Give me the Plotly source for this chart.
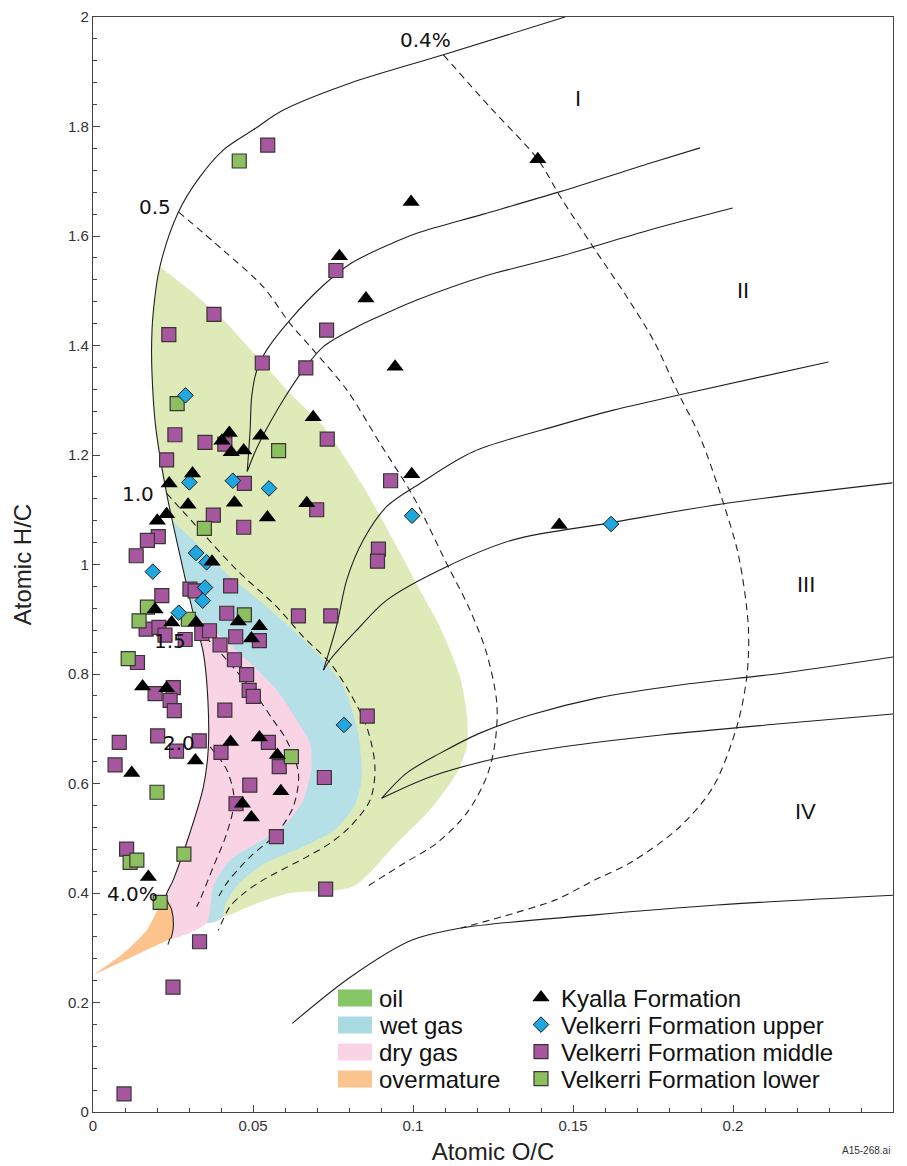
import plotly.graph_objects as go

# ---------------- sample data (Atomic O/C, Atomic H/C) ----------------
kyalla_oc = [0.139, 0.0994, 0.077, 0.0853, 0.0944, 0.0688, 0.0996, 0.0668, 0.1457, 0.0426,
             0.0403, 0.0432, 0.0471, 0.0524, 0.0311, 0.0238, 0.0297, 0.0442, 0.023, 0.0201,
             0.0545, 0.0372, 0.0194, 0.0246, 0.0322, 0.0454, 0.052, 0.0495, 0.0155, 0.023,
             0.032, 0.0121, 0.043, 0.052, 0.0576, 0.0587, 0.0467, 0.0495, 0.0173]
kyalla_hc = [1.740, 1.662, 1.563, 1.486, 1.361, 1.269, 1.165, 1.112, 1.072, 1.240,
             1.226, 1.205, 1.208, 1.235, 1.166, 1.148, 1.109, 1.113, 1.092, 1.080,
             1.086, 1.005, 0.918, 0.894, 0.894, 0.896, 0.887, 0.865, 0.777, 0.774,
             0.642, 0.619, 0.676, 0.684, 0.652, 0.586, 0.563, 0.538, 0.429]

upper_oc = [0.0289, 0.0301, 0.0437, 0.055, 0.0997, 0.1619, 0.0322, 0.0355, 0.0187, 0.035,
            0.0343, 0.0268, 0.0784]
upper_hc = [1.309, 1.150, 1.153, 1.139, 1.089, 1.074, 1.021, 1.004, 0.987, 0.958,
            0.934, 0.912, 0.707]

middle_oc = [0.0546, 0.0759, 0.0378, 0.0237, 0.073, 0.0529, 0.0665, 0.0732, 0.093, 0.0699,
             0.0892, 0.0889, 0.0642, 0.0743, 0.0256, 0.035, 0.0412, 0.023, 0.0473, 0.0376,
             0.0471, 0.0204, 0.017, 0.0135, 0.043, 0.0303, 0.0319, 0.0215, 0.0418, 0.0166,
             0.0206, 0.0225, 0.0288, 0.034, 0.0364, 0.0446, 0.052, 0.0397, 0.0139, 0.0442,
             0.048, 0.0194, 0.0251, 0.0241, 0.0254, 0.0488, 0.0501, 0.0412, 0.0857, 0.0082,
             0.0202, 0.0261, 0.0332, 0.0069, 0.040, 0.0548, 0.0582, 0.0723, 0.049, 0.0447,
             0.0573, 0.0105, 0.0727, 0.0333, 0.025, 0.0097]
middle_hc = [1.766, 1.537, 1.457, 1.420, 1.428, 1.368, 1.359, 1.229, 1.153, 1.100,
             1.028, 1.006, 0.906, 0.906, 1.237, 1.223, 1.220, 1.191, 1.148, 1.090,
             1.068, 1.051, 1.044, 1.016, 0.961, 0.955, 0.952, 0.943, 0.911, 0.882,
             0.885, 0.871, 0.863, 0.874, 0.879, 0.868, 0.861, 0.853, 0.821, 0.826,
             0.799, 0.764, 0.775, 0.752, 0.733, 0.770, 0.759, 0.734, 0.723, 0.675,
             0.687, 0.659, 0.678, 0.634, 0.657, 0.675, 0.631, 0.611, 0.597, 0.563,
             0.503, 0.480, 0.407, 0.311, 0.228, 0.033]

lower_oc = [0.0457, 0.0263, 0.058, 0.0348, 0.017, 0.0144, 0.0298, 0.0473, 0.011, 0.062,
            0.020, 0.0116, 0.0137, 0.0284, 0.021]
lower_hc = [1.737, 1.294, 1.208, 1.066, 0.922, 0.897, 0.900, 0.908, 0.828, 0.649,
            0.584, 0.456, 0.460, 0.471, 0.383]

# ---------------- kerogen evolution paths (solid) ----------------
type1_x = [0.1475, 0.1095, 0.0803, 0.0595, 0.0501, 0.0407, 0.0334, 0.0267, 0.0209, 0.0188,
           0.0183, 0.0188, 0.0197, 0.023, 0.0282, 0.0313, 0.0345, 0.0359, 0.036, 0.0345,
           0.0303, 0.0251, 0.0228, 0.0246, 0.0251, 0.0244]
type1_y = [2.0, 1.931, 1.879, 1.830, 1.794, 1.757, 1.708, 1.644, 1.544, 1.459,
           1.392, 1.306, 1.246, 1.130, 0.990, 0.911, 0.838, 0.753, 0.661, 0.594,
           0.510, 0.424, 0.393, 0.369, 0.338, 0.317]
type2a_x = [0.1897, 0.174, 0.146, 0.122, 0.1012, 0.0928, 0.0803, 0.072, 0.0616,
            0.0543, 0.0512, 0.0496, 0.0491, 0.0482]
type2a_y = [1.761, 1.733, 1.681, 1.640, 1.605, 1.585, 1.549, 1.510, 1.447,
            1.392, 1.355, 1.307, 1.246, 1.170]
type2b_x = [0.1999, 0.174, 0.146, 0.122, 0.1012, 0.0928, 0.0824, 0.072, 0.0657, 0.0594,
            0.0541, 0.0509, 0.0482]
type2b_y = [1.651, 1.611, 1.563, 1.526, 1.483, 1.462, 1.434, 1.398, 1.355, 1.300,
            1.246, 1.209, 1.170]
type3a_x = [0.2298, 0.1834, 0.1626, 0.1459, 0.1188, 0.1022, 0.0918, 0.0845, 0.0793, 0.0762,
            0.072]
type3a_y = [1.370, 1.310, 1.282, 1.255, 1.206, 1.148, 1.106, 1.045, 0.972, 0.890,
            0.807]
type3b_x = [0.2498, 0.197, 0.1616, 0.1313, 0.1105, 0.0918, 0.0824, 0.0741, 0.072]
type3b_y = [1.149, 1.111, 1.076, 1.045, 0.996, 0.935, 0.880, 0.826, 0.807]
type4a_x = [0.25, 0.2147, 0.1834, 0.1574, 0.1366, 0.1209, 0.1084, 0.098, 0.0902]
type4a_y = [0.831, 0.801, 0.780, 0.756, 0.725, 0.692, 0.655, 0.619, 0.573]
type4b_x = [0.25, 0.2147, 0.1782, 0.147, 0.1262, 0.1053, 0.0902]
type4b_y = [0.727, 0.709, 0.689, 0.667, 0.646, 0.612, 0.573]
type4c_x = [0.25, 0.195, 0.1569, 0.115, 0.0997, 0.0806, 0.0623]
type4c_y = [0.396, 0.378, 0.360, 0.336, 0.314, 0.247, 0.162]

# ---------------- vitrinite reflectance iso-lines (dashed) ----------------
ro04_x = [0.1095, 0.1241, 0.139, 0.146, 0.1563, 0.1668, 0.1751, 0.1829, 0.1897, 0.197,
          0.2017, 0.2048, 0.2043, 0.2012, 0.1938, 0.1834, 0.1684, 0.1569, 0.1443, 0.1315, 0.115]
ro04_y = [1.931, 1.835, 1.740, 1.672, 1.580, 1.489, 1.410, 1.313, 1.233, 1.112,
          1.017, 0.886, 0.795, 0.704, 0.594, 0.521, 0.457, 0.424, 0.387, 0.363, 0.336]
ro05_x = [0.0267, 0.0407, 0.0532, 0.0616, 0.0688, 0.0793, 0.0897, 0.1001, 0.1105, 0.1178,
          0.123, 0.1262, 0.1256, 0.123, 0.1168, 0.1074, 0.0971, 0.0857]
ro05_y = [1.644, 1.574, 1.507, 1.440, 1.392, 1.319, 1.221, 1.124, 1.002, 0.917,
          0.838, 0.746, 0.673, 0.612, 0.546, 0.491, 0.454, 0.412]
ro10_x = [0.023, 0.0334, 0.0449, 0.0574, 0.0657, 0.0741, 0.0803, 0.0855, 0.0881, 0.0866,
          0.0803, 0.0741, 0.0668, 0.0532, 0.047, 0.0428, 0.0392]
ro10_y = [1.130, 1.063, 0.990, 0.923, 0.868, 0.820, 0.765, 0.704, 0.631, 0.570,
          0.521, 0.491, 0.466, 0.424, 0.399, 0.375, 0.332]
ro15_x = [0.0324, 0.0418, 0.0512, 0.0563, 0.0605, 0.0642, 0.0626, 0.0574, 0.0491, 0.0418, 0.0387]
ro15_y = [0.884, 0.826, 0.759, 0.716, 0.679, 0.619, 0.558, 0.509, 0.466, 0.418, 0.387]
ro20_x = [0.0366, 0.0418, 0.0441, 0.0418, 0.0376, 0.0334, 0.0324]
ro20_y = [0.667, 0.625, 0.570, 0.509, 0.448, 0.387, 0.375]
ro40_x = [0.0241, 0.0231]
ro40_y = [0.318, 0.300]

# ---------------- maturity zones ----------------
oil_x = [0.0209, 0.0303, 0.0407, 0.0512, 0.0616, 0.072, 0.0845, 0.0949, 0.1022, 0.1084,
         0.1147, 0.117, 0.1168, 0.1137, 0.1053, 0.0949, 0.0813, 0.0616, 0.0512, 0.0402,
         0.0355, 0.0228, 0.0251, 0.0303, 0.0345, 0.036, 0.0359, 0.0345, 0.0313, 0.0282,
         0.023, 0.0197, 0.0188, 0.0183, 0.0188]
oil_y = [1.544, 1.501, 1.447, 1.380, 1.313, 1.252, 1.142, 1.033, 0.953, 0.886,
         0.795, 0.716, 0.667, 0.619, 0.552, 0.491, 0.412, 0.400, 0.381, 0.354,
         0.345, 0.393, 0.424, 0.510, 0.594, 0.661, 0.753, 0.838, 0.911, 0.990,
         1.130, 1.246, 1.306, 1.392, 1.459]
wet_x = [0.0246, 0.0334, 0.0428, 0.0543, 0.0637, 0.072, 0.0782, 0.0813, 0.0829, 0.084,
         0.0819, 0.0756, 0.0647, 0.0528, 0.0453, 0.0413, 0.0402, 0.0355, 0.0228, 0.0251,
         0.0303, 0.0345, 0.036, 0.0359, 0.0345, 0.0313, 0.0282]
wet_y = [1.081, 1.033, 0.978, 0.923, 0.874, 0.826, 0.777, 0.728, 0.692, 0.612,
         0.561, 0.515, 0.482, 0.451, 0.415, 0.378, 0.354, 0.345, 0.393, 0.424,
         0.510, 0.594, 0.661, 0.753, 0.838, 0.911, 0.990]
dry_x = [0.0313, 0.0387, 0.048, 0.0574, 0.0637, 0.0678, 0.0683, 0.0657, 0.0595, 0.0512,
         0.0428, 0.0376, 0.0355, 0.0244, 0.0251, 0.0246, 0.0228, 0.0251, 0.0303, 0.0345,
         0.036, 0.0359, 0.0345]
dry_y = [0.911, 0.875, 0.826, 0.771, 0.716, 0.674, 0.631, 0.570, 0.521, 0.491,
         0.460, 0.412, 0.345, 0.317, 0.338, 0.369, 0.393, 0.424, 0.510, 0.594,
         0.661, 0.753, 0.838]
over_x = [0.0, 0.0095, 0.0168, 0.0228, 0.0246, 0.0251, 0.0244]
over_y = [0.250, 0.290, 0.332, 0.393, 0.369, 0.338, 0.317]

zone_names = ["oil", "wet gas", "dry gas", "overmature"]
zone_fill = ["#dfeab9", "#b6e0e8", "#f8d4e4", "#fdc38d"]
zone_key = ["#86c664", "#aadbe3", "#f9d4e5", "#fcc48e"]

iso_labels = ["0.4%", "0.5", "1.0", "1.5", "2.0", "4.0%"]
iso_lab_x = [0.1038, 0.0194, 0.0141, 0.0241, 0.0269, 0.0122]
iso_lab_y = [1.958, 1.653, 1.129, 0.860, 0.674, 0.398]
type_labels = ["I", "II", "III", "IV"]
type_lab_x = [0.1516, 0.2031, 0.2228, 0.2225]
type_lab_y = [1.852, 1.501, 0.963, 0.548]

INK = "#231f20"
fig = go.Figure()

zones = [(oil_x, oil_y), (wet_x, wet_y), (dry_x, dry_y), (over_x, over_y)]
for (zx, zy), col in zip(zones, zone_fill):
    fig.add_trace(go.Scatter(x=zx, y=zy, fill="toself", fillcolor=col, mode="lines",
                             line=dict(width=0, shape="spline", smoothing=0.7, color=col),
                             hoverinfo="skip", showlegend=False))

for lx, ly in [(type1_x, type1_y), (type2a_x, type2a_y), (type2b_x, type2b_y),
               (type3a_x, type3a_y), (type3b_x, type3b_y), (type4a_x, type4a_y),
               (type4b_x, type4b_y), (type4c_x, type4c_y)]:
    fig.add_trace(go.Scatter(x=lx, y=ly, mode="lines",
                             line=dict(color=INK, width=1.1, shape="spline", smoothing=0.9),
                             hoverinfo="skip", showlegend=False))

for lx, ly in [(ro04_x, ro04_y), (ro05_x, ro05_y), (ro10_x, ro10_y), (ro15_x, ro15_y),
               (ro20_x, ro20_y), (ro40_x, ro40_y)]:
    fig.add_trace(go.Scatter(x=lx, y=ly, mode="lines",
                             line=dict(color=INK, width=1.1, dash="7px,5px", shape="spline", smoothing=0.9),
                             hoverinfo="skip", showlegend=False))

fig.add_trace(go.Scatter(x=middle_oc, y=middle_hc, mode="markers", name="Velkerri Formation middle",
                         marker=dict(symbol="square", size=14, color="#a6579f",
                                     line=dict(color="#3b3434", width=1.2)),
                         legend="legend3"))
fig.add_trace(go.Scatter(x=lower_oc, y=lower_hc, mode="markers", name="Velkerri Formation lower",
                         marker=dict(symbol="square", size=14, color="#8cbf5f",
                                     line=dict(color="#3b3434", width=1.2)),
                         legend="legend4"))
fig.add_trace(go.Scatter(x=upper_oc, y=upper_hc, mode="markers", name="Velkerri Formation upper",
                         marker=dict(symbol="diamond", size=12, color="#1fa8e0",
                                     line=dict(color="#1a1a1a", width=1)),
                         legend="legend2"))
fig.add_trace(go.Scatter(x=kyalla_oc, y=kyalla_hc, mode="markers", name="Kyalla Formation",
                         marker=dict(symbol="triangle-up", size=15, color="#000000",
                                     line=dict(width=0)),
                         legend="legend"))

for t, x, y in zip(iso_labels, iso_lab_x, iso_lab_y):
    fig.add_annotation(x=x, y=y, text=t, showarrow=False,
                       font=dict(family="DejaVu Sans", size=20, color="#111"))
for t, x, y in zip(type_labels, type_lab_x, type_lab_y):
    fig.add_annotation(x=x, y=y, text=t, showarrow=False,
                       font=dict(family="Arial, Liberation Sans", size=22, color="#111"))

# area legend (swatches + labels)
W, H = 907, 1166
L, R, T, B = 93, 14, 17, 54
pw, ph = W - L - R, H - T - B
def px_to_paper_x(px):
    return (px - L) / pw
def px_to_paper_y(py):
    return (H - B - py) / ph
row_py = [998, 1025, 1052, 1079]
for name, col, py in zip(zone_names, zone_key, row_py):
    fig.add_shape(type="rect", xref="paper", yref="paper",
                  x0=px_to_paper_x(338), x1=px_to_paper_x(372),
                  y0=px_to_paper_y(py + 8.5), y1=px_to_paper_y(py - 8.5),
                  fillcolor=col, line=dict(width=0), layer="above")
    fig.add_annotation(xref="paper", yref="paper", x=px_to_paper_x(377), y=px_to_paper_y(py),
                       xanchor="left", yanchor="middle", text=name, showarrow=False,
                       font=dict(family="Arial, Liberation Sans", size=24, color="#111"))

leg_common = dict(xanchor="left", yanchor="middle", bgcolor="rgba(0,0,0,0)",
                  font=dict(family="Arial, Liberation Sans", size=24, color="#111"),
                  itemclick=False, itemdoubleclick=False, borderwidth=0)
for key, py in zip(["legend", "legend2", "legend3", "legend4"], row_py):
    fig.update_layout({key: dict(x=px_to_paper_x(521), y=px_to_paper_y(py), **leg_common)})

fig.add_annotation(xref="paper", yref="paper", x=px_to_paper_x(866), y=px_to_paper_y(1150),
                   text="A15-268.ai", showarrow=False, xanchor="center", yanchor="middle",
                   font=dict(family="Arial, Liberation Sans", size=10, color="#333"))

axis_font = dict(family="Arial, Liberation Sans", size=15, color="#333")
fig.update_xaxes(range=[0, 0.25], dtick=0.05, tick0=0, ticks="inside", ticklen=7,
                 tickcolor="#444", showline=True, linecolor="#444", linewidth=1.2, mirror=True,
                 showgrid=False, zeroline=False, tickfont=axis_font,
                 minor=dict(dtick=0.01, ticks="inside", ticklen=4, tickcolor="#444"),
                 title=dict(text="Atomic O/C", font=dict(family="Arial, Liberation Sans", size=24, color="#222"),
                            standoff=10))
fig.update_yaxes(range=[0, 2], dtick=0.2, tick0=0, ticks="inside", ticklen=7,
                 tickcolor="#444", showline=True, linecolor="#444", linewidth=1.2, mirror=True,
                 showgrid=False, zeroline=False, tickfont=axis_font,
                 minor=dict(dtick=0.04, ticks="inside", ticklen=4, tickcolor="#444"),
                 title=dict(text="Atomic H/C", font=dict(family="Arial, Liberation Sans", size=24, color="#222"),
                            standoff=29))

fig.update_layout(width=W, height=H, autosize=False,
                  margin=dict(l=L, r=R, t=T, b=B, autoexpand=False),
                  plot_bgcolor="white", paper_bgcolor="white", showlegend=True)

fig.write_html("out.html")
